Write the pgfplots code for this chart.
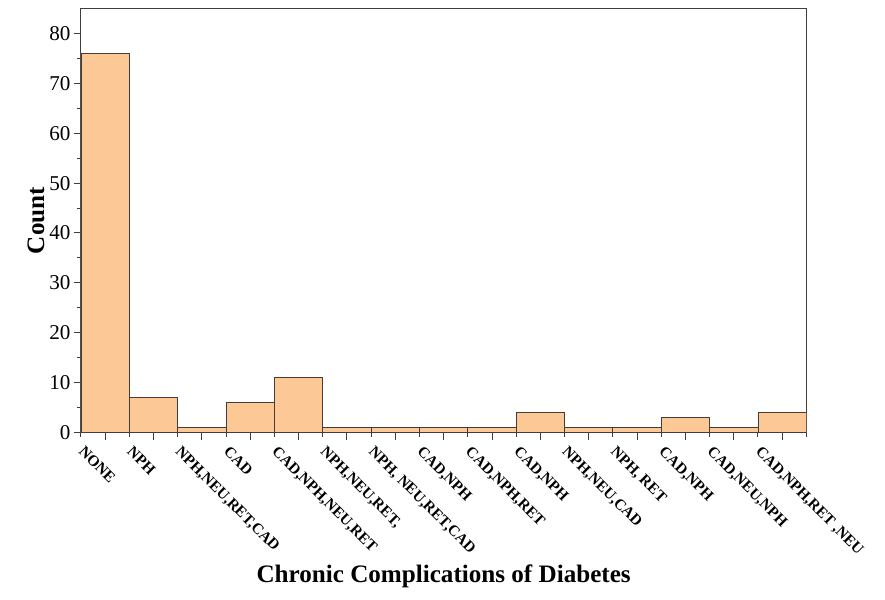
\documentclass[border={24pt 8pt 20pt 8pt}]{standalone}
\usepackage{pgfplots}
\pgfplotsset{compat=1.18}
\usepackage{fontspec}
\setmainfont{Liberation Serif}
\definecolor{barfill}{RGB}{252,200,150}
\definecolor{edge}{RGB}{70,60,55}
\begin{document}
\begin{tikzpicture}
\begin{axis}[
  scale only axis,
  width=722pt, height=422pt,
  xmin=-0.5, xmax=14.5,
  ymin=0, ymax=85,
  ytick={0,10,...,80},
  minor ytick={5,15,...,75},
  xtick={0,...,14},
  minor xtick={-0.5,0.5,...,14.5},
  xticklabels={NONE,NPH,{NPH,NEU,RET,CAD},CAD,{CAD,NPH,NEU,RET},{NPH,NEU,RET,},{NPH, NEU,RET,CAD},{CAD,NPH},{CAD,NPH,RET},{CAD,NPH},{NPH,NEU,CAD},{NPH, RET},{CAD,NPH},{CAD,NEU,NPH},{CAD,NPH,RET ,NEU}},
  x tick label style={rotate=-45, anchor=north west, font=\fontsize{15.3}{16}\selectfont\bfseries, inner sep=0pt, xshift=-10pt, yshift=-18pt},
  y tick label style={font=\fontsize{21}{22}\selectfont},
  /pgf/number format/assume math mode=true,
  tick align=outside,
  major tick length=7pt,
  minor tick length=4pt,
  tick style={edge, line width=1pt},
  xtick pos=bottom, ytick pos=left,
  axis line style={edge, line width=1pt},
  xlabel={Chronic Complications of Diabetes},
  ylabel={Count},
  xlabel style={font=\fontsize{25}{28}\selectfont\bfseries, yshift=-4pt},
  ylabel style={font=\fontsize{25}{28}\selectfont\bfseries, yshift=-2pt},
  ybar, bar width=1, bar shift=0pt,
]
\addplot[fill=barfill, draw=edge, line width=0.8pt] coordinates {
(0,76) (1,7) (2,1) (3,6) (4,11) (5,1) (6,1) (7,1) (8,1) (9,4) (10,1) (11,1) (12,3) (13,1) (14,4)
};
\end{axis}
\end{tikzpicture}
\end{document}
